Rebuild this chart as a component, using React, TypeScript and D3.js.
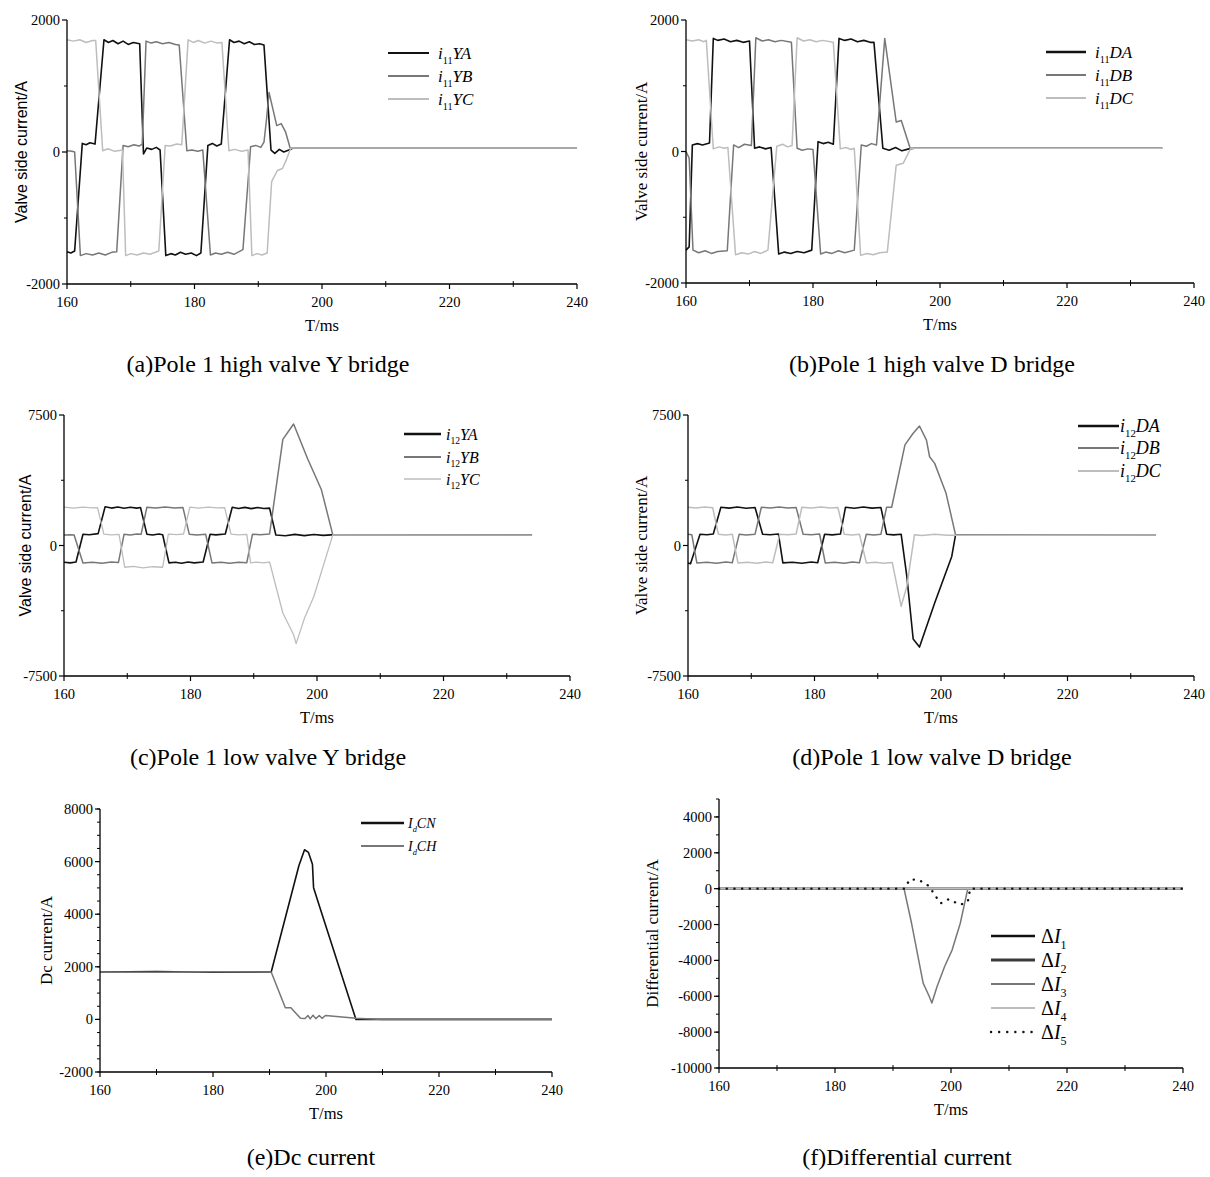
import React from 'react';
import * as d3 from 'd3';

type Pt = [number, number];

// ---------------- shared axis data ----------------
const X_DOMAIN: [number, number] = [160, 240];
const X_MAJOR = [160, 180, 200, 220, 240];
const X_MINOR = [170, 190, 210, 230];

// ---------------- (a) Pole 1 high valve Y bridge ----------------
const i11YA: Pt[] = [[160,-1510],[160.6,-1530],[161.2,-1500],[162.4,130],[163,110],[163.6,140],[164.4,120],[165.8,1700],[166.5,1660],[167.2,1690],[168,1640],[168.8,1680],[169.6,1630],[170.4,1660],[171.4,1640],[172,-30],[172.5,60],[173.3,40],[174,70],[174.6,30],[175.5,-1570],[176.3,-1540],[177,-1560],[177.8,-1520],[178.6,-1550],[179.5,-1530],[180.3,-1570],[181,-1530],[182.1,100],[182.8,130],[183.5,90],[184.2,120],[185.5,1700],[186.2,1660],[187,1680],[187.8,1640],[188.6,1670],[189.4,1630],[190.2,1640],[190.9,1620],[192,30],[192.6,-20],[193.3,40],[194,0],[194.8,30],[195.5,60],[240,60]];
const i11YB: Pt[] = [[160,20],[160.8,10],[161.2,0],[162.1,-1570],[163,-1540],[164,-1560],[165,-1530],[166,-1560],[167,-1520],[167.8,-1510],[168.8,100],[169.6,80],[170.5,110],[171.3,90],[171.8,120],[172.4,1680],[173.2,1650],[174,1670],[175,1640],[176,1660],[177,1630],[177.6,1620],[178.8,20],[179.6,30],[180.5,10],[181.3,30],[182.5,-1560],[183.3,-1530],[184.2,-1550],[185.2,-1520],[186.2,-1550],[187,-1510],[187.6,-1480],[188.8,80],[189.6,100],[190.4,70],[190.9,150],[191.3,500],[191.7,900],[192.3,650],[192.9,400],[193.6,430],[194.3,300],[195,60],[240,60]];
const i11YC: Pt[] = [[160,1700],[161,1680],[162,1700],[163,1660],[164,1690],[164.5,1690],[165.6,20],[166.4,50],[167.5,10],[168.7,30],[169.2,-1570],[170,-1540],[171,-1560],[172,-1530],[173,-1550],[174.4,-1500],[175.4,100],[176.2,90],[177.2,120],[178,110],[179,1700],[179.8,1660],[180.6,1690],[181.6,1650],[182.6,1680],[183.6,1650],[184.3,1660],[185.4,20],[186.3,40],[187.4,10],[188.4,30],[189,-1570],[189.8,-1540],[190.6,-1560],[191.4,-1530],[192.1,-450],[193,-280],[193.8,-250],[194.4,-120],[195.1,60],[240,60]];

// ---------------- (b) Pole 1 high valve D bridge ----------------
const i11DA: Pt[] = [[160,-1500],[160.5,-1450],[161,100],[161.8,120],[162.6,100],[163.7,130],[164.3,1720],[165,1690],[166,1710],[167,1670],[168,1690],[169,1660],[170,1680],[170.8,50],[171.6,70],[172.5,40],[173.4,60],[174.6,-1560],[175.5,-1530],[176.5,-1550],[177.5,-1520],[178.6,-1540],[179.8,-1500],[180.8,150],[181.6,120],[182.4,140],[183.2,110],[184.1,1720],[185,1690],[186,1710],[187,1670],[188,1690],[189,1660],[189.6,1660],[191,50],[192,20],[193,60],[194,10],[195.1,40],[196,50],[235,50]];
const i11DB: Pt[] = [[160,0],[160.5,-100],[161.1,-1500],[162,-1540],[163,-1510],[164,-1550],[165,-1520],[166.5,-1510],[167.5,100],[168.3,60],[169.2,110],[170.3,90],[171,1730],[172,1680],[173,1700],[174,1670],[175,1690],[176.6,1660],[177.5,50],[178.3,20],[179.2,40],[180,30],[181.2,-1560],[182,-1530],[183,-1550],[184,-1510],[185,-1540],[186.5,-1500],[187.6,100],[188.4,80],[189.2,120],[190,100],[191.3,1720],[193.1,450],[193.9,470],[195.3,50],[235,50]];
const i11DC: Pt[] = [[160,1700],[161,1680],[162,1700],[162.8,1670],[163.2,1690],[164.3,40],[165.2,70],[166,50],[166.6,60],[167.8,-1570],[168.8,-1540],[169.8,-1560],[170.8,-1520],[171.8,-1550],[172.9,-1500],[174.3,80],[175.2,110],[176,70],[176.7,90],[177.5,1730],[178.5,1680],[179.5,1700],[180.5,1670],[181.5,1690],[183.2,1660],[184.3,40],[185.2,60],[186,30],[186.5,50],[187.5,-1580],[188.5,-1550],[189.5,-1570],[190.5,-1540],[191.7,-1530],[193.1,-210],[194.2,-180],[195.4,50],[235,50]];

// ---------------- (c) Pole 1 low valve Y bridge ----------------
const i12YA: Pt[] = [[160,-960],[161,-1000],[161.9,-950],[163,650],[164,620],[165.4,680],[166.5,2230],[167.5,2150],[168.5,2210],[169.5,2140],[170.5,2200],[171.5,2150],[172.1,2180],[173.1,650],[174,600],[175,660],[175.6,620],[176.6,-1000],[177.6,-960],[178.6,-1020],[179.6,-950],[180.6,-1000],[182,-950],[183.1,650],[184,610],[185.5,660],[186.6,2200],[187.6,2130],[188.6,2190],[189.6,2120],[190.6,2180],[191.6,2130],[192.5,2150],[193.5,600],[195,560],[196.5,640],[198,570],[199.5,630],[201,580],[202.2,610],[234,600]];
const i12YB: Pt[] = [[160,600],[161,620],[161.6,600],[163,-1000],[164.5,-960],[166,-1020],[167.5,-950],[168.6,-980],[169.5,650],[170.5,610],[171.5,660],[172.2,650],[173.1,2200],[174.5,2150],[176,2210],[177.5,2160],[178.8,2190],[179.8,650],[181,610],[182.4,640],[183.4,-1000],[184.8,-960],[186.2,-1020],[187.6,-960],[188.9,-990],[189.8,650],[191,620],[192.5,660],[193.1,2200],[194.6,6100],[196.3,6980],[198.5,5000],[200.7,3200],[202.5,610],[234,600]];
const i12YC: Pt[] = [[160,2200],[161.5,2150],[163,2210],[164.5,2160],[165.3,2180],[166.3,650],[167.5,610],[168.7,640],[169.6,-1250],[171,-1200],[172.5,-1280],[174,-1220],[175.6,-1250],[176.5,650],[177.8,620],[178.9,660],[179.9,2200],[181.3,2150],[182.8,2210],[184.2,2160],[185.4,2180],[186.4,650],[187.6,610],[188.9,640],[189.5,-1000],[190.5,-950],[191.5,-1000],[192.5,-950],[194.6,-3880],[196.3,-5130],[196.7,-5640],[198,-4200],[199.5,-2930],[202.5,610],[234,600]];

// ---------------- (d) Pole 1 low valve D bridge ----------------
const i12DA: Pt[] = [[160,-1000],[160.4,-1050],[161.9,650],[163,620],[164,660],[165.2,2200],[166.5,2150],[167.8,2210],[169.2,2140],[170.6,2180],[171.8,650],[173,620],[174.3,660],[175,-1000],[176.5,-960],[178,-1020],[179.5,-950],[180.5,-990],[181.6,650],[182.8,610],[184.1,660],[184.9,2200],[186.3,2140],[187.7,2210],[189.1,2150],[190.5,2180],[191.4,650],[192.5,610],[193.7,650],[194.6,-1780],[195.6,-5375],[196.6,-5835],[199,-3300],[201.7,-630],[202.3,610],[234,600]];
const i12DB: Pt[] = [[160,650],[160.6,620],[161.4,-1000],[163,-960],[164.5,-1020],[166,-950],[167,-990],[168.1,650],[169.2,610],[170.6,650],[171.6,2200],[173,2150],[174.4,2210],[175.8,2150],[177.1,2180],[178.2,650],[179.5,620],[180.8,660],[181.7,-1000],[183.2,-960],[184.7,-1020],[186,-950],[187.1,-990],[188.2,650],[189.4,610],[190.5,650],[191.4,2200],[192.2,2200],[194.3,5780],[195.6,6450],[196.6,6870],[197.7,6060],[198.2,5100],[199,4720],[200.8,3000],[202.3,610],[234,600]];
const i12DC: Pt[] = [[160,2200],[161.3,2150],[162.6,2210],[163.9,2170],[164.8,650],[166,610],[167,650],[167.9,-1000],[169.4,-960],[170.9,-1020],[172.3,-950],[173.4,-990],[174.5,650],[175.8,620],[177.1,660],[178,2200],[179.5,2150],[181,2210],[182.5,2150],[183.7,2180],[184.7,650],[186,610],[187.1,650],[188.2,-1000],[189.6,-960],[191,-1020],[192.3,-980],[193.7,-3500],[194.6,-2350],[195.8,612],[197,580],[199,640],[201,590],[234,600]];

// ---------------- (e) Dc current ----------------
const IdCN: Pt[] = [[160,1800],[170,1820],[180,1790],[190.3,1800],[195.2,5840],[196.2,6450],[196.9,6350],[197.6,5900],[197.8,5010],[199.3,4000],[205.3,0],[240,0]];
const IdCH: Pt[] = [[160,1800],[170,1790],[180,1810],[190.3,1800],[192.8,440],[193.8,440],[194.3,320],[195.5,40],[196.3,30],[196.8,150],[197.2,20],[197.7,160],[198.2,30],[198.8,150],[199.3,40],[199.9,150],[205.3,40],[210,0],[240,0]];

// ---------------- (f) Differential current ----------------
const dI1: Pt[] = [[160,0],[240,0]];
const dI2: Pt[] = [[160,0],[240,0]];
const dI3: Pt[] = [[160,0],[191.9,0],[193.2,-1930],[195.2,-5270],[196.2,-5970],[196.7,-6380],[197.6,-5450],[198.9,-4340],[200.2,-3410],[201.6,-1930],[202.9,0],[240,0]];
const dI4: Pt[] = [[160,0],[240,0]];
const dI5: Pt[] = [[160,0],[192,0],[192.9,520],[194.5,480],[196.2,150],[197.2,-350],[198.2,-820],[199.6,-590],[201.6,-900],[202.9,-720],[203.3,0],[240,0]];

const BLACK = '#111';
const DARK = '#3a3a3a';
const MID = '#777';
const LIGHT = '#bdbdbd';

const SERIF = '"Liberation Serif", "Times New Roman", serif';
const SANS = '"Liberation Sans", Arial, sans-serif';

type Series = {
  data: Pt[];
  color: string;
  width: number;
  dash?: string;
  base: string;
  sub: string;
  tail: string;
  legendWidth: number;
};

type PanelCfg = {
  left: number; right: number; top: number; bottom: number;
  yDomain: [number, number];
  yMajor: number[]; yLabels: string[]; yMinor: number[];
  yTitle: string; yTitleX: number; yTitleFont: string;
  caption: string; captionX: number; captionY: number;
  series: Series[];
  legend: { x1: number; x2: number; tx: number; ys: number[]; size: number; subItalic?: boolean; delta?: boolean };
};

const range = (a: number, b: number, s: number) => d3.range(a, b + s / 2, s);

const panels: PanelCfg[] = [
  {
    left: 67, right: 577, top: 20, bottom: 284,
    yDomain: [-2000, 2000], yMajor: [-2000, 0, 2000], yLabels: ['-2000', '0', '2000'], yMinor: [-1000, 1000],
    yTitle: 'Valve side current/A', yTitleX: 21, yTitleFont: SANS,
    caption: '(a)Pole 1 high valve Y bridge', captionX: 268, captionY: 372,
    series: [
      { data: i11YA, color: BLACK, width: 1.6, base: 'i', sub: '11', tail: 'YA', legendWidth: 2.2 },
      { data: i11YB, color: MID, width: 1.5, base: 'i', sub: '11', tail: 'YB', legendWidth: 2 },
      { data: i11YC, color: LIGHT, width: 1.5, base: 'i', sub: '11', tail: 'YC', legendWidth: 2 },
    ],
    legend: { x1: 388, x2: 429, tx: 438, ys: [53, 76, 99], size: 17 },
  },
  {
    left: 686, right: 1194, top: 20, bottom: 283,
    yDomain: [-2000, 2000], yMajor: [-2000, 0, 2000], yLabels: ['-2000', '0', '2000'], yMinor: [-1000, 1000],
    yTitle: 'Valve side current/A', yTitleX: 641, yTitleFont: SERIF,
    caption: '(b)Pole 1 high valve D bridge', captionX: 932, captionY: 372,
    series: [
      { data: i11DA, color: BLACK, width: 1.6, base: 'i', sub: '11', tail: 'DA', legendWidth: 2.4 },
      { data: i11DB, color: MID, width: 1.5, base: 'i', sub: '11', tail: 'DB', legendWidth: 2 },
      { data: i11DC, color: LIGHT, width: 1.5, base: 'i', sub: '11', tail: 'DC', legendWidth: 2 },
    ],
    legend: { x1: 1046, x2: 1086, tx: 1095, ys: [52, 75, 98], size: 17 },
  },
  {
    left: 64, right: 570, top: 415, bottom: 676,
    yDomain: [-7500, 7500], yMajor: [-7500, 0, 7500], yLabels: ['-7500', '0', '7500'], yMinor: [-3750, 3750],
    yTitle: 'Valve side current/A', yTitleX: 25, yTitleFont: SANS,
    caption: '(c)Pole 1 low valve Y bridge', captionX: 268, captionY: 765,
    series: [
      { data: i12YA, color: BLACK, width: 1.6, base: 'i', sub: '12', tail: 'YA', legendWidth: 2.6 },
      { data: i12YB, color: MID, width: 1.5, base: 'i', sub: '12', tail: 'YB', legendWidth: 2 },
      { data: i12YC, color: LIGHT, width: 1.3, base: 'i', sub: '12', tail: 'YC', legendWidth: 1.6 },
    ],
    legend: { x1: 404, x2: 441, tx: 446, ys: [434, 457, 479], size: 16 },
  },
  {
    left: 688, right: 1194, top: 415, bottom: 676,
    yDomain: [-7500, 7500], yMajor: [-7500, 0, 7500], yLabels: ['-7500', '0', '7500'], yMinor: [-3750, 3750],
    yTitle: 'Valve side current/A', yTitleX: 641, yTitleFont: SERIF,
    caption: '(d)Pole 1 low valve D bridge', captionX: 932, captionY: 765,
    series: [
      { data: i12DA, color: BLACK, width: 1.6, base: 'i', sub: '12', tail: 'DA', legendWidth: 2.6 },
      { data: i12DB, color: MID, width: 1.5, base: 'i', sub: '12', tail: 'DB', legendWidth: 2 },
      { data: i12DC, color: LIGHT, width: 1.5, base: 'i', sub: '12', tail: 'DC', legendWidth: 2 },
    ],
    legend: { x1: 1078, x2: 1119, tx: 1120, ys: [426, 448, 471], size: 18 },
  },
  {
    left: 100, right: 552, top: 809, bottom: 1072,
    yDomain: [-2000, 8000], yMajor: range(-2000, 8000, 2000), yLabels: range(-2000, 8000, 2000).map(String), yMinor: range(-2000, 8000, 500),
    yTitle: 'Dc current/A', yTitleX: 46, yTitleFont: SERIF,
    caption: '(e)Dc current', captionX: 311, captionY: 1165,
    series: [
      { data: IdCN, color: BLACK, width: 1.6, base: 'I', sub: 'd', tail: 'CN', legendWidth: 2.4 },
      { data: IdCH, color: MID, width: 1.5, base: 'I', sub: 'd', tail: 'CH', legendWidth: 2 },
    ],
    legend: { x1: 361, x2: 404, tx: 408, ys: [823, 846], size: 14, subItalic: true },
  },
  {
    left: 719, right: 1183, top: 799, bottom: 1068,
    yDomain: [-10000, 5000], yMajor: range(-10000, 4000, 2000), yLabels: range(-10000, 4000, 2000).map(String), yMinor: range(-10000, 5000, 1000),
    yTitle: 'Differential current/A', yTitleX: 652, yTitleFont: SERIF,
    caption: '(f)Differential current', captionX: 907, captionY: 1165,
    series: [
      { data: dI1, color: BLACK, width: 1.6, base: 'ΔI', sub: '1', tail: '', legendWidth: 2.4 },
      { data: dI2, color: DARK, width: 1.6, base: 'ΔI', sub: '2', tail: '', legendWidth: 2.8 },
      { data: dI3, color: MID, width: 1.5, base: 'ΔI', sub: '3', tail: '', legendWidth: 2 },
      { data: dI4, color: LIGHT, width: 1.5, base: 'ΔI', sub: '4', tail: '', legendWidth: 2 },
      { data: dI5, color: BLACK, width: 2.4, dash: '0.1 7.6', base: 'ΔI', sub: '5', tail: '', legendWidth: 2.4 },
    ],
    legend: { x1: 991, x2: 1035, tx: 1041, ys: [936, 960, 984, 1008, 1032], size: 20, delta: true },
  },
];

function Panel({ cfg }: { cfg: PanelCfg }) {
  const x = d3.scaleLinear().domain(X_DOMAIN).range([cfg.left, cfg.right]);
  const y = d3.scaleLinear().domain(cfg.yDomain).range([cfg.bottom, cfg.top]);
  const line = d3.line<Pt>().x(d => x(d[0])).y(d => y(d[1]));
  const midX = (cfg.left + cfg.right) / 2;
  const midY = (cfg.top + cfg.bottom) / 2;
  const lg = cfg.legend;
  return (
    <g>
      {cfg.series.map((s, i) => (
        <path key={i} d={line(s.data) || ''} fill="none" stroke={s.color} strokeWidth={s.width}
          strokeDasharray={s.dash} strokeLinecap={s.dash ? 'round' : 'butt'} strokeLinejoin="round" />
      ))}
      <line x1={cfg.left} x2={cfg.left} y1={cfg.top} y2={cfg.bottom} stroke="#000" strokeWidth={1.3} />
      <line x1={cfg.left} x2={cfg.right} y1={cfg.bottom} y2={cfg.bottom} stroke="#000" strokeWidth={1.3} />
      {cfg.yMajor.map(v => (
        <line key={'ym' + v} x1={cfg.left - 5} x2={cfg.left} y1={y(v)} y2={y(v)} stroke="#000" strokeWidth={1.2} />
      ))}
      {cfg.yMinor.map(v => (
        <line key={'yn' + v} x1={cfg.left - 3} x2={cfg.left} y1={y(v)} y2={y(v)} stroke="#000" strokeWidth={1} />
      ))}
      {cfg.yMajor.map((v, i) => (
        <text key={'yl' + v} x={cfg.left - 7} y={y(v)} dy="0.35em" textAnchor="end" fontFamily={SERIF} fontSize={14.5}>{cfg.yLabels[i]}</text>
      ))}
      {X_MAJOR.map(v => (
        <line key={'xm' + v} x1={x(v)} x2={x(v)} y1={cfg.bottom} y2={cfg.bottom + 5} stroke="#000" strokeWidth={1.2} />
      ))}
      {X_MINOR.map(v => (
        <line key={'xn' + v} x1={x(v)} x2={x(v)} y1={cfg.bottom - 3} y2={cfg.bottom + 3} stroke="#000" strokeWidth={1} />
      ))}
      {X_MAJOR.map(v => (
        <text key={'xl' + v} x={x(v)} y={cfg.bottom + 23} textAnchor="middle" fontFamily={SERIF} fontSize={14.5}>{v}</text>
      ))}
      <text x={midX} y={cfg.bottom + 47} textAnchor="middle" fontFamily={SERIF} fontSize={16.5}>T/ms</text>
      <text transform={`translate(${cfg.yTitleX},${midY}) rotate(-90)`} textAnchor="middle" dy="0.35em"
        fontFamily={cfg.yTitleFont} fontSize={cfg.yTitleFont === SANS ? 16 : 17}>{cfg.yTitle}</text>
      {cfg.series.map((s, i) => (
        <g key={'lg' + i}>
          <line x1={lg.x1} x2={lg.x2} y1={lg.ys[i]} y2={lg.ys[i]} stroke={s.color} strokeWidth={s.legendWidth}
            strokeDasharray={s.dash ? '0.1 8' : undefined} strokeLinecap={s.dash ? 'round' : 'butt'} />
          <text x={lg.tx} y={lg.ys[i]} dy="0.35em" fontFamily={SERIF} fontSize={lg.size}>
            {lg.delta ? (
              <>
                <tspan>Δ</tspan><tspan fontStyle="italic">I</tspan>
              </>
            ) : (
              <tspan fontStyle="italic">{s.base}</tspan>
            )}
            <tspan fontSize={lg.size * 0.6} dy={lg.size * 0.28} fontStyle={lg.subItalic ? 'italic' : 'normal'}>{s.sub}</tspan>
            {s.tail ? <tspan fontStyle="italic" dy={-lg.size * 0.28}>{s.tail}</tspan> : null}
          </text>
        </g>
      ))}
      <text x={cfg.captionX} y={cfg.captionY} textAnchor="middle" fontFamily={SERIF} fontSize={24}>{cfg.caption}</text>
    </g>
  );
}

export default function App() {
  return (
    <svg width={1210} height={1177} viewBox="0 0 1210 1177" style={{ display: 'block', position: 'absolute', left: 0, top: 0, background: '#fff' }}>
      <rect x={0} y={0} width={1210} height={1177} fill="#fff" />
      {panels.map((p, i) => <Panel key={i} cfg={p} />)}
    </svg>
  );
}
